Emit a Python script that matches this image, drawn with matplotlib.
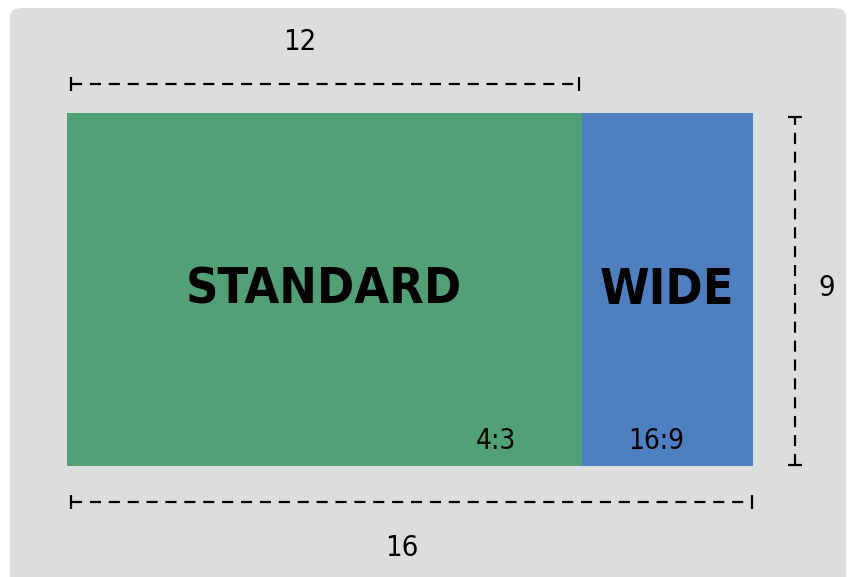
import matplotlib.pyplot as plt
from matplotlib.patches import FancyBboxPatch

# data
names = ["STANDARD", "WIDE"]
ratios = ["4:3", "16:9"]
starts = [0, 12]
widths = [12, 4]
height = 9
colors = ["#52A076", "#4E7FC1"]

W, H = 848, 577
fig = plt.figure(figsize=(W / 100, H / 100), dpi=100, facecolor="white")

# rounded grey panel behind everything
bg = FancyBboxPatch((10 / W, -0.05), 836 / W, 1 - 8 / H + 0.05,
                    boxstyle="round,pad=0,rounding_size=0.015",
                    transform=fig.transFigure, facecolor="#DCDDDF",
                    edgecolor="none", zorder=-10)
fig.patches.append(bg)

ax = fig.add_axes([67 / W, (H - 466) / H, 686 / W, 353 / H])
ax.set_zorder(1)
ax.set_xlim(0, 16)
ax.set_ylim(0, height)
ax.axis("off")

font = dict(family="DejaVu Sans", stretch="condensed")

ax.bar(starts, [height] * 2, width=widths, align="edge", color=colors, zorder=2)

for s, w, n in zip(starts, widths, names):
    ax.text(s + w / 2, 4.5, n, ha="center", va="center", fontsize=36,
            fontweight="bold", zorder=3, **font)

ax.text(10.0, 0.64, ratios[0], ha="center", va="center", fontsize=20, zorder=3, **font)
ax.text(13.75, 0.64, ratios[1], ha="center", va="center", fontsize=20, zorder=3, **font)

# dimension lines
dim = dict(color="black", lw=1.6, dashes=(5, 3.5), clip_on=False, zorder=3)
cap = dict(color="black", lw=0, marker="|", markersize=10, markeredgewidth=1.6,
           clip_on=False, zorder=3)

top_y = 9.74
ax.plot([0.1, 11.95], [top_y, top_y], **dim)
ax.plot([0.1, 11.95], [top_y, top_y], **cap)
ax.text(5.43, 10.8, str(widths[0]), ha="center", va="center", fontsize=21, **font)

bot_y = -0.92
ax.plot([0.1, 15.97], [bot_y, bot_y], **dim)
ax.plot([0.1, 15.97], [bot_y, bot_y], **cap)
ax.text(7.8, -2.1, str(sum(widths)), ha="center", va="center", fontsize=21, **font)

vx = 16.98
ax.plot([vx, vx], [0.03, 8.9], **dim)
ax.plot([vx, vx], [0.03, 8.9], color="black", lw=0, marker="_", markersize=10,
        markeredgewidth=1.6, clip_on=False, zorder=3)
ax.text(17.73, 4.54, str(height), ha="center", va="center", fontsize=21, **font)

fig.savefig("out.png", dpi=100, facecolor="white")
